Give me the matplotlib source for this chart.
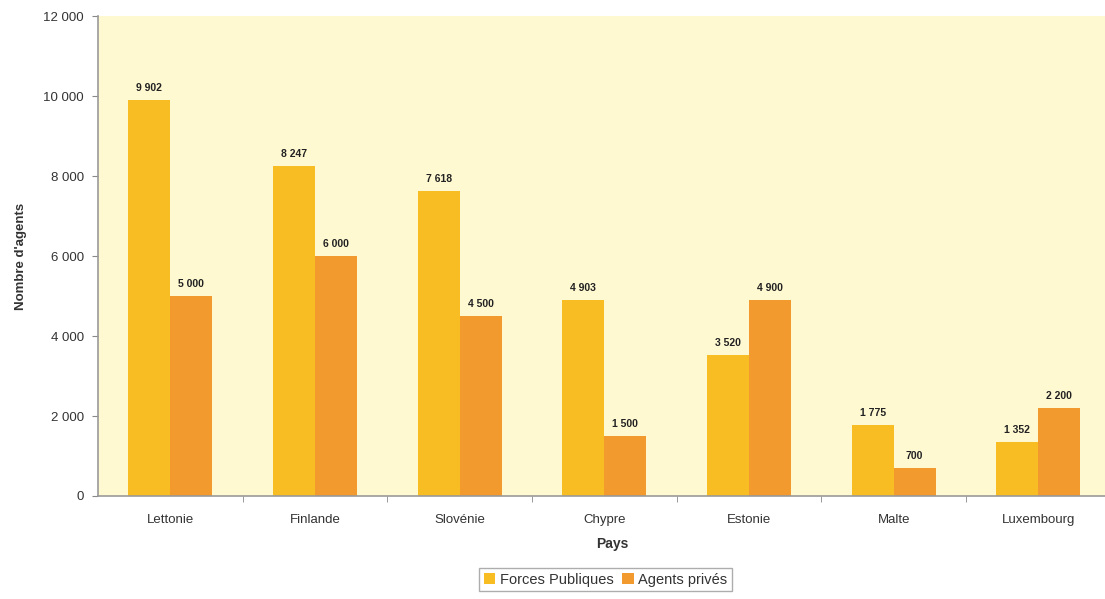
import numpy as np
import matplotlib
matplotlib.use("Agg")
from matplotlib import pyplot as plt
from matplotlib.ticker import FuncFormatter, FixedLocator

# Effectifs par pays
pays = ["Lettonie", "Finlande", "Slovénie", "Chypre", "Estonie", "Malte", "Luxembourg"]
forces_publiques = [9902, 8247, 7618, 4903, 3520, 1775, 1352]
agents_prives = [5000, 6000, 4500, 1500, 4900, 700, 2200]

col_fp = "#F9BD24"
col_ap = "#F39A2E"
bg = "#FFF9D2"
txt = "#333333"


def fmt_space(v):
    return f"{int(v):,}".replace(",", " ")


plt.rcParams["font.family"] = ["Liberation Sans", "DejaVu Sans"]

fig = plt.figure(figsize=(11.05, 5.99), dpi=100)
# the plot area runs slightly past the right edge of the figure
ax = fig.add_axes([0.0885, 0.172, 0.9167, 0.801])
ax.set_facecolor(bg)

x = np.arange(len(pays))
w = 0.29
b1 = ax.bar(x - w / 2, forces_publiques, w, color=col_fp, label="Forces Publiques")
b2 = ax.bar(x + w / 2, agents_prives, w, color=col_ap, label="Agents privés")

for bars, vals in ((b1, forces_publiques), (b2, agents_prives)):
    for r, v in zip(bars, vals):
        ax.text(r.get_x() + r.get_width() / 2, v + 180, fmt_space(v),
                ha="center", va="bottom", fontsize=7.5, fontweight="bold", color="#222222")

ax.set_xlim(-0.5, len(pays) - 0.5)
ax.set_ylim(0, 12000)
ax.set_yticks(np.arange(0, 12001, 2000))
ax.yaxis.set_major_formatter(FuncFormatter(lambda v, p: fmt_space(v)))

# category labels centred, small ticks between groups
ax.set_xticks(x)
ax.set_xticklabels(pays)
ax.tick_params(axis="x", length=0, pad=13, labelsize=9.5, labelcolor=txt)
ax.xaxis.set_minor_locator(FixedLocator(x[:-1] + 0.5))
ax.tick_params(axis="x", which="minor", length=4, color="#888888", direction="out")
ax.tick_params(axis="y", length=4, color="#888888", labelsize=9.5, labelcolor=txt, pad=6)

for s in ("top", "right"):
    ax.spines[s].set_visible(False)
for s in ("left", "bottom"):
    ax.spines[s].set_color("#999999")
    ax.spines[s].set_linewidth(1.2)

ax.set_xlabel("Pays", fontsize=10, fontweight="bold", color=txt)
ax.xaxis.set_label_coords(0.508, -0.086)
ax.set_ylabel("Nombre d'agents", fontsize=9.5, fontweight="bold", color=txt, labelpad=12)

leg = fig.legend(loc="center", bbox_to_anchor=(0.548, 0.032), ncol=2, fontsize=10.5,
                 frameon=True, fancybox=False, edgecolor="#999999",
                 handlelength=0.8, handleheight=0.8, handletextpad=0.3,
                 columnspacing=0.6, borderpad=0.3)
for t in leg.get_texts():
    t.set_color(txt)

fig.savefig("out.png", dpi=100)
